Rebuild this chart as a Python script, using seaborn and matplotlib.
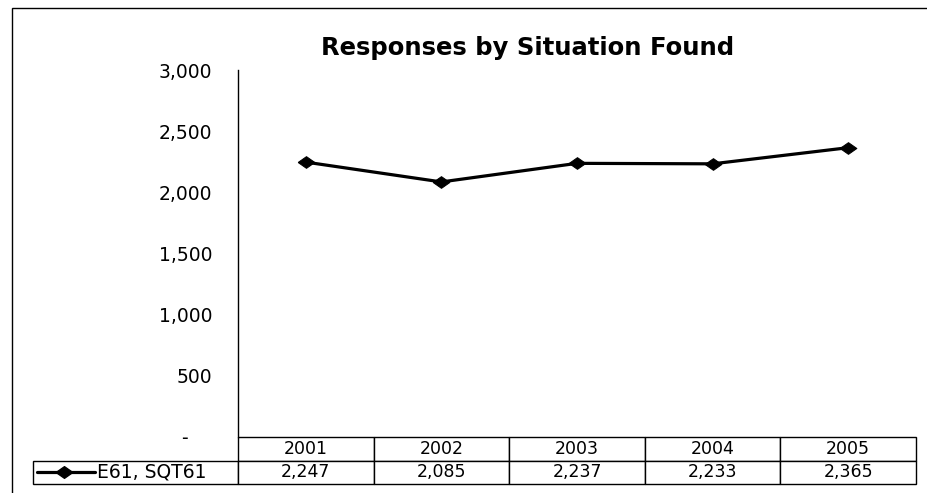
import matplotlib
matplotlib.use("Agg")
import matplotlib.pyplot as plt
from matplotlib.lines import Line2D
from matplotlib.patches import Rectangle
from matplotlib.ticker import FuncFormatter
import seaborn as sns
import pandas as pd

# Data
years = ["2001", "2002", "2003", "2004", "2005"]
responses = [2247, 2085, 2237, 2233, 2365]
series_name = "E61, SQT61"
y_ticks = [0, 500, 1000, 1500, 2000, 2500, 3000]

sns.set_style("white")
plt.rcParams["font.family"] = ["DejaVu Sans"]
plt.rcParams["text.color"] = "black"

W, H = 927, 493
fig = plt.figure(figsize=(W / 100, H / 100), dpi=100)

# plot area in pixel terms
ax_l, ax_r, ax_t, ax_b = 238, 916, 70, 437
ax = fig.add_axes([ax_l / W, 1 - ax_b / H, (ax_r - ax_l) / W, (ax_b - ax_t) / H])

df = pd.DataFrame({"year": years, "responses": responses})
diamond = [(-1, 0), (0, 0.7), (1, 0), (0, -0.7), (-1, 0)]
sns.lineplot(data=df, x="year", y="responses", ax=ax, color="black",
             linewidth=2.3, marker=diamond, markersize=12,
             markeredgecolor="black", markerfacecolor="black", sort=False)

ax.set_xlim(-0.5, len(years) - 0.5)
ax.set_ylim(0, 3000)
ax.set_yticks(y_ticks)
ax.yaxis.set_major_formatter(
    FuncFormatter(lambda v, p: "-    " if v == 0 else f"{int(v):,}"))
ax.tick_params(axis="y", length=0, pad=18.5, labelsize=13.5, colors="black")
ax.set_xticks([])
ax.set_xlabel("")
ax.set_ylabel("")
for s in ["top", "right", "bottom"]:
    ax.spines[s].set_visible(False)
ax.spines["left"].set_color("black")
ax.spines["left"].set_linewidth(1.0)

# title
fig.text(528 / W, 1 - 48 / H, "Responses by Situation Found", ha="center",
         va="center", fontsize=17.5, fontweight="bold", color="black")

# data table below the plot
ax_h = ax_b - ax_t
ax_w = ax_r - ax_l
row_h = 23.5 / ax_h
col_w = 1 / len(years)
fs_table = 12.5
tbl = ax.table(cellText=[[f"{v:,}" for v in responses]], colLabels=years,
               cellLoc="center", colLoc="center",
               colWidths=[col_w] * len(years),
               bbox=[0, -2 * row_h, 1, 2 * row_h])
tbl.auto_set_font_size(False)
for (r, c), cell in tbl.get_celld().items():
    cell.set_linewidth(1.0)
    cell.set_edgecolor("black")
    cell.get_text().set_fontsize(fs_table)
# row label cell with the legend key
lab_w = (ax_l - 33) / ax_w
lab = tbl.add_cell(1, -1, width=lab_w, height=tbl[1, 0].get_height(),
                   text=series_name, loc="left")
lab.set_linewidth(1.0)
lab.set_edgecolor("black")
lab.get_text().set_fontsize(13.5)
lab.PAD = 0.31

# legend key inside the row label cell
key_y = 1 - 472 / H
fig.add_artist(Line2D([37 / W, 95 / W], [key_y, key_y], color="black", linewidth=2.3,
                      transform=fig.transFigure))
fig.add_artist(Line2D([64 / W], [key_y], color="black", marker=diamond, markersize=12,
                      linestyle="none", transform=fig.transFigure))

# chart frame
fig.add_artist(Rectangle((12 / W, -0.05), (W + 20) / W, 1.05 - 8 / H, fill=False,
                         edgecolor="black", linewidth=1.0, transform=fig.transFigure))

fig.savefig("out.png", dpi=100)
